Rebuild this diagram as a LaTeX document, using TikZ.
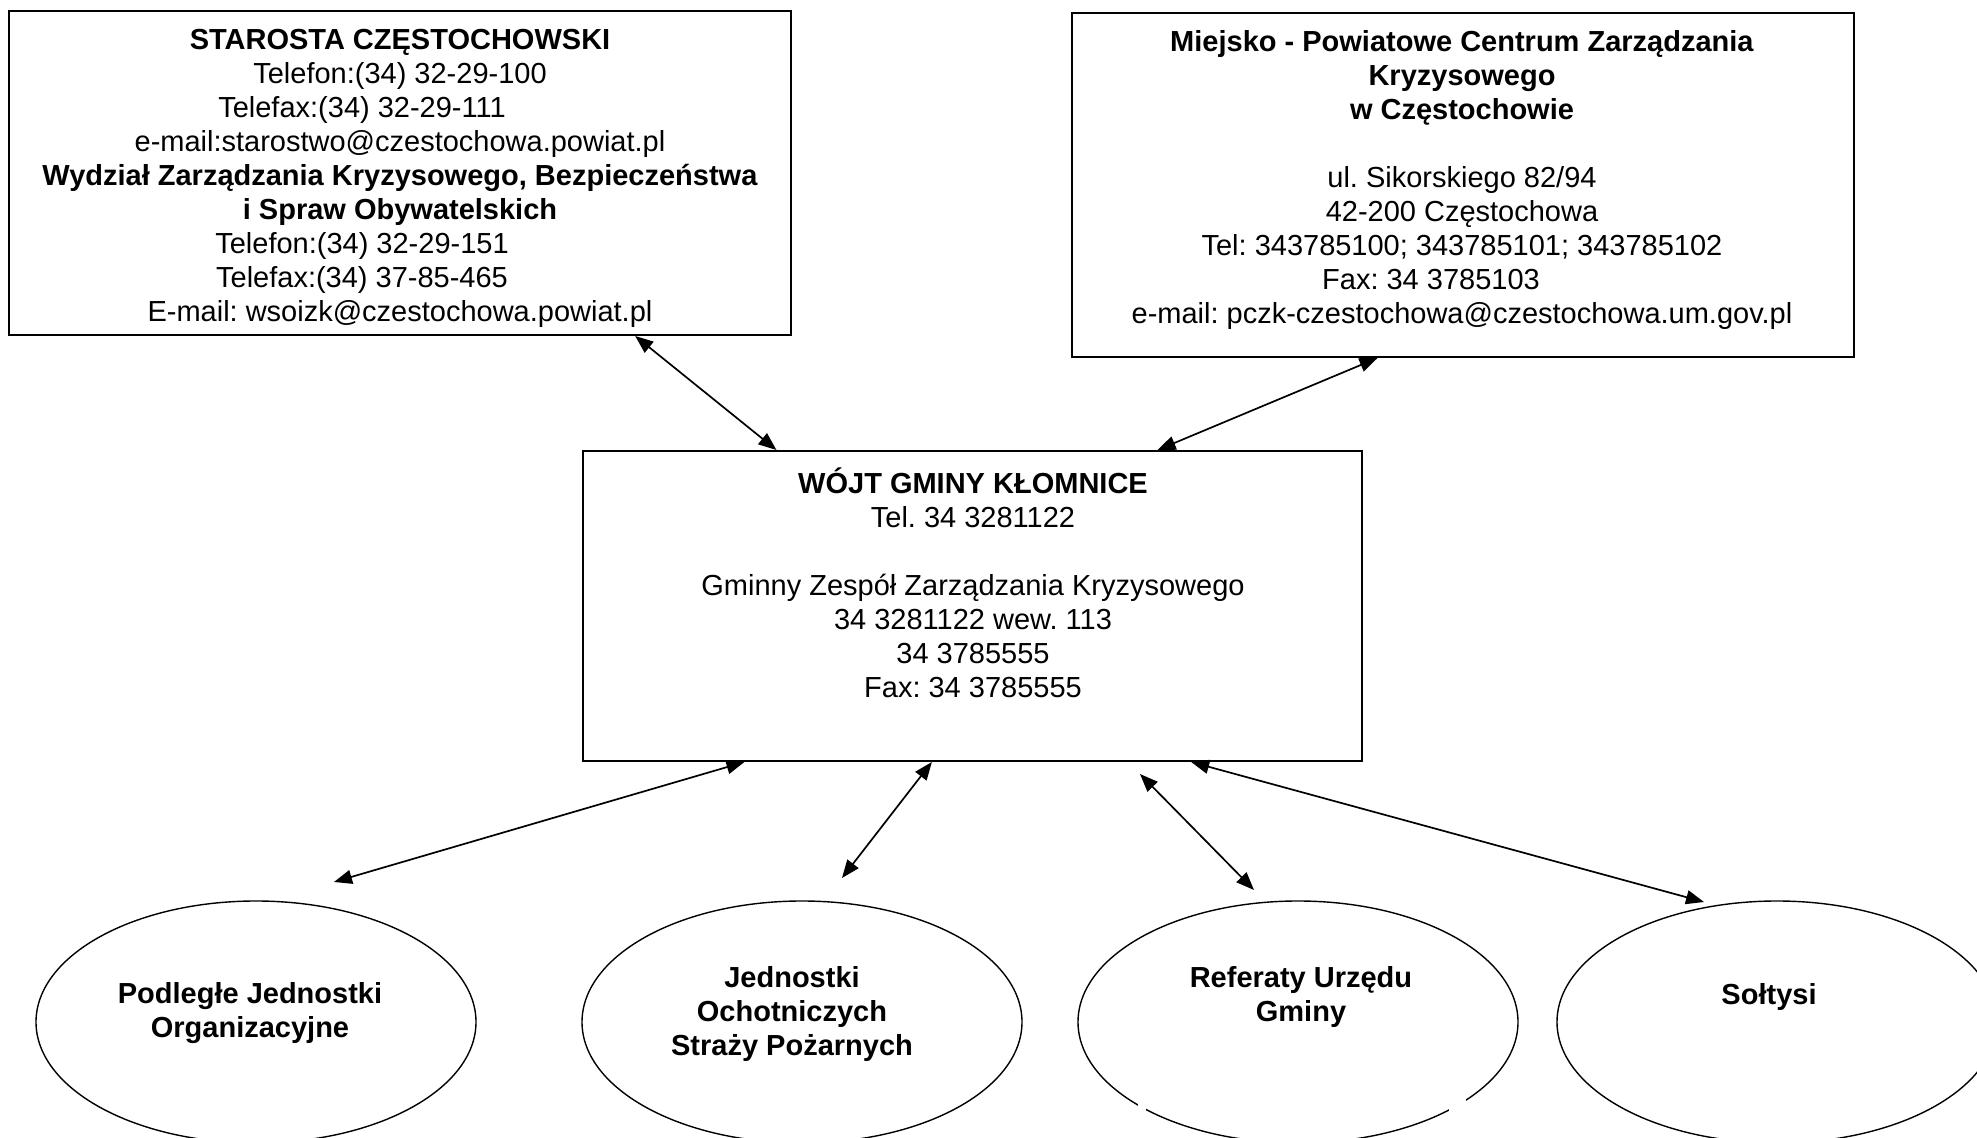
\documentclass[tikz,border=0pt]{standalone}
\usepackage{fontspec}
\setmainfont{Liberation Sans}
\usetikzlibrary{arrows.meta,shapes.geometric,calc}
\begin{document}
\frenchspacing
\begin{tikzpicture}[x=0.5pt,y=-0.5pt,
  boxnode/.style={draw, rectangle, line width=1pt, inner sep=0pt},
  txt/.style={align=center, inner sep=0pt, font=\fontsize{14.5pt}{17pt}\selectfont\frenchspacing},
  oval/.style={draw, ellipse, line width=0.7pt, minimum width=220pt, minimum height=121pt, inner sep=0pt},
  conn/.style={line width=0.85pt, {Triangle[length=9pt,width=7pt]}-{Triangle[length=9pt,width=7pt]}}]
\useasboundingbox (0,0) rectangle (1977,1138);
\clip (0,0) rectangle (1977,1138);

% boxes
\node[boxnode, minimum width=391pt, minimum height=162pt] (b1) at (400,173) {};
\node[boxnode, minimum width=391pt, minimum height=172pt] (b2) at (1463,185) {};
\node[boxnode, minimum width=389.5pt, minimum height=155pt] (b3) at (972.5,606) {};

\node[txt] (t1) at (400,178) {\textbf{STAROSTA CZĘSTOCHOWSKI}\\
Telefon:(34) 32-29-100\\
\mbox{Telefax:(34) 32-29-111\hspace{38pt}}\\
e-mail:starostwo@czestochowa.powiat.pl\\
\textbf{Wydział Zarządzania Kryzysowego, Bezpieczeństwa}\\
\textbf{i Spraw Obywatelskich}\\
\mbox{Telefon:(34) 32-29-151\hspace{38pt}}\\
\mbox{Telefax:(34) 37-85-465\hspace{38pt}}\\
E-mail: wsoizk@czestochowa.powiat.pl};

\node[txt] (t2) at (1462,180) {\textbf{Miejsko - Powiatowe Centrum Zarządzania}\\
\textbf{Kryzysowego}\\
\textbf{w Częstochowie}\\
\mbox{}\\
ul. Sikorskiego 82/94\\
42-200 Częstochowa\\
Tel: 343785100; 343785101; 343785102\\
\mbox{Fax: 34 3785103\hspace{31pt}}\\
e-mail: pczk-czestochowa@czestochowa.um.gov.pl};

\node[txt] (t3) at (973,583) {\textbf{WÓJT GMINY KŁOMNICE}\\
Tel. 34 3281122\\
\mbox{}\\
Gminny Zespół Zarządzania Kryzysowego\\
34 3281122 wew. 113\\
34 3785555\\
Fax: 34 3785555};

% ellipses
\node[oval] (e1) at (256,1022) {};
\node[oval] (e2) at (802,1022) {};
\node[oval] (e3) at (1298,1022) {};
\node[oval] (e4) at (1777,1022) {};
\fill[white] (1138,1100) rectangle (1146,1114);
\fill[white] (1449,1096) rectangle (1466,1114);

\node[txt, font=\fontsize{14.5pt}{17pt}\selectfont\bfseries] (e1t) at (250,1013) {Podległe Jednostki\\Organizacyjne};
\node[txt, font=\fontsize{14.5pt}{17pt}\selectfont\bfseries] (e2t) at (792,1014) {Jednostki\\Ochotniczych\\Straży Pożarnych};
\node[txt, font=\fontsize{14.5pt}{17pt}\selectfont\bfseries] (e3t) at (1301,997) {Referaty Urzędu\\Gminy};
\node[txt, font=\fontsize{14.5pt}{17pt}\selectfont\bfseries] (e4t) at (1769,997) {Sołtysi};

% connector end points
\coordinate (a1s) at ($(b1.south west)!0.80!(b1.south east)$);
\coordinate (a1e) at ($(b3.north west)!0.249!(b3.north east)$);
\coordinate (a2s) at ($(b2.south west)!0.391!(b2.south east)$);
\coordinate (a2e) at ($(b3.north west)!0.737!(b3.north east)$);
\coordinate (a3s) at ($(b3.south west)!0.208!(b3.south east)$);
\coordinate (a3e) at (334,882);
\coordinate (a4s) at ($(b3.south west)!0.448!(b3.south east)$);
\coordinate (a4e) at (842,878);
\coordinate (a5s) at (1140,774);
\coordinate (a5e) at (1254,890);
\coordinate (a6s) at ($(b3.south west)!0.780!(b3.south east)$);
\coordinate (a6e) at (1704,902);

\draw[conn] (a1s) -- (a1e);
\draw[conn] (a2s) -- (a2e);
\draw[conn] (a3s) -- (a3e);
\draw[conn] (a4s) -- (a4e);
\draw[conn] (a5s) -- (a5e);
\draw[conn] (a6s) -- (a6e);
\end{tikzpicture}
\end{document}
